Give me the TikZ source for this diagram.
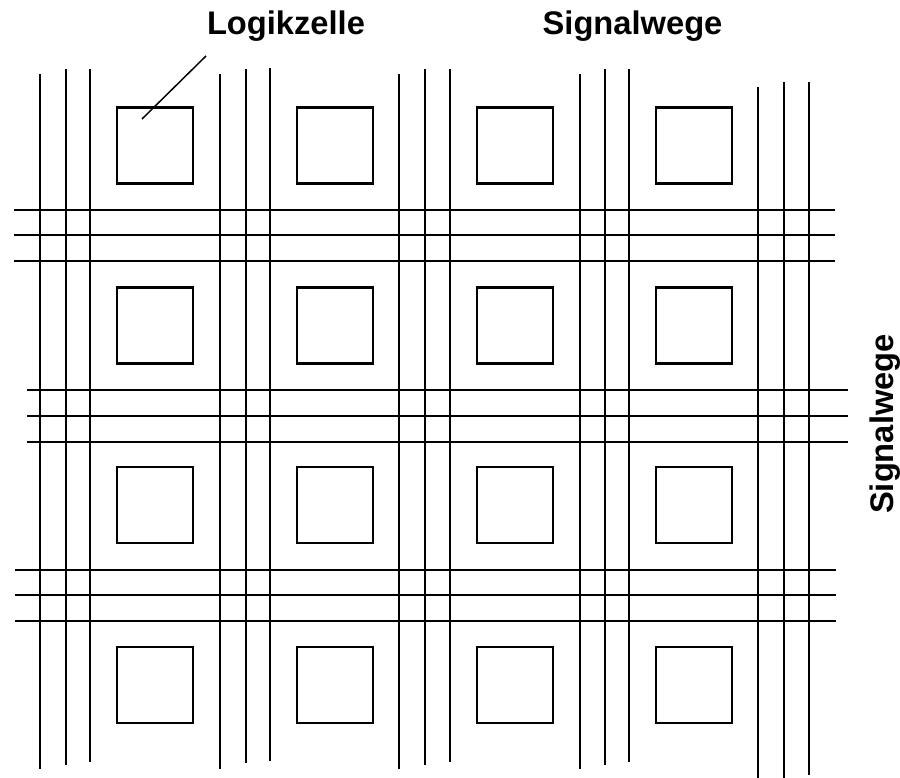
\documentclass[tikz,border=0pt]{standalone}
\usepackage{fontspec}
\setmainfont{Liberation Sans}
\begin{document}
\begin{tikzpicture}[x=0.75pt,y=-0.75pt,
  wire/.style={line width=1.8pt},
  cell/.style={draw,line width=2.2pt,minimum width=57pt,minimum height=57pt,inner sep=0pt},
  lbl/.style={font=\fontsize{24.5}{28}\selectfont\bfseries}]
\useasboundingbox (0,0) rectangle (900,778);
% vertical signal paths
\foreach \x/\t/\b in {40/74/769,66/69/765,90/69/762,
                      220/74/769,246/69/763,270/68/761,
                      399/74/769,425/69/765,450/69/762,
                      580/74/769,605/69/765,629/69/762,
                      758/87/778,784/82/778,809/82/775}
  \draw[wire] (\x,\t) -- (\x,\b);
% horizontal signal paths
\foreach \y/\l/\r in {210/14/835,235/14/835,261/14/835,
                      390/27/848,416/27/848,442/27/848,
                      570/15/836,595/15/836,621/15/836}
  \draw[wire] (\l,\y) -- (\r,\y);
% logic cells
\foreach \i/\cx in {1/155,2/335,3/515,4/694}
  \foreach \j/\cy in {1/145.5,2/325.5,3/505,4/685}
    \node[cell] (c\i\j) at (\cx,\cy) {};
% labels
\node[lbl,anchor=base] (logik) at (286,35) {Logikzelle};
\node[lbl,anchor=base] (sigtop) at (632.5,35) {Signalwege};
\node[lbl,anchor=base,rotate=90] (sigright) at (893,424) {Signalwege};
\coordinate (lead) at (206,56);
\coordinate (inner) at (142,119);
\draw[line width=1.1pt] (lead) -- (inner);
\end{tikzpicture}
\end{document}
